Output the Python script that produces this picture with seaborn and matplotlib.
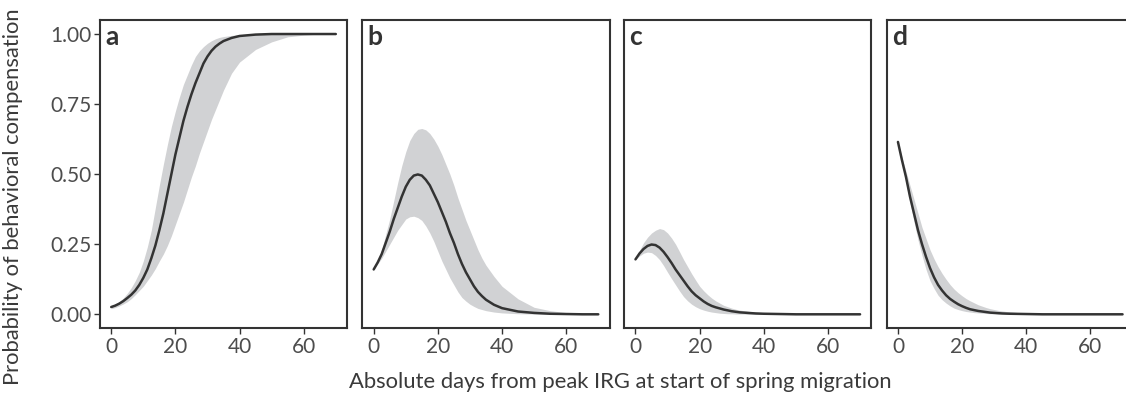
import numpy as np
import pandas as pd
import matplotlib
matplotlib.use("Agg")
import matplotlib.pyplot as plt
import seaborn as sns

# days from peak IRG (shared x grid for every panel)
days = [0, 1.25, 2.5, 3.75, 5, 6.25, 7.5, 8.75,
        10, 11.25, 12.5, 13.75, 15, 16.25, 17.5, 18.75,
        20, 21.25, 22.5, 23.75, 25, 26.25, 27.5, 28.75,
        30, 31.25, 32.5, 33.75, 35,
        37.5, 40, 45, 50, 55, 60, 65, 70]

panel_letters = ["a", "b", "c", "d"]

# panel a
fit_a = [0.026, 0.031, 0.038, 0.047, 0.058, 0.07, 0.085, 0.105,
         0.13, 0.16, 0.20, 0.245, 0.30, 0.36, 0.43, 0.50,
         0.57, 0.63, 0.69, 0.74, 0.785, 0.825, 0.86, 0.895,
         0.92, 0.94, 0.955, 0.966, 0.975,
         0.986, 0.993, 0.998, 1.0, 1.0, 1.0, 1.0, 1.0]
upr_a = [0.03, 0.037, 0.045, 0.058, 0.075, 0.095, 0.12, 0.15,
         0.19, 0.24, 0.30, 0.38, 0.46, 0.535, 0.605, 0.67,
         0.725, 0.775, 0.82, 0.855, 0.89, 0.92, 0.94, 0.955,
         0.967, 0.976, 0.983, 0.988, 0.991,
         0.995, 0.998, 1.0, 1.0, 1.0, 1.0, 1.0, 1.0]
lwr_a = [0.02, 0.024, 0.03, 0.037, 0.045, 0.056, 0.07, 0.085,
         0.10, 0.12, 0.14, 0.163, 0.19, 0.215, 0.245, 0.28,
         0.32, 0.36, 0.40, 0.445, 0.49, 0.53, 0.575, 0.615,
         0.655, 0.695, 0.73, 0.765, 0.80,
         0.86, 0.90, 0.945, 0.972, 0.99, 0.996, 1.0, 1.0]

# panel b
fit_b = [0.16, 0.185, 0.215, 0.255, 0.295, 0.34, 0.38, 0.42,
         0.455, 0.48, 0.495, 0.499, 0.495, 0.48, 0.46, 0.43,
         0.40, 0.365, 0.33, 0.29, 0.255, 0.215, 0.18, 0.15,
         0.125, 0.10, 0.08, 0.065, 0.052,
         0.034, 0.022, 0.01, 0.005, 0.002, 0.001, 0.0, 0.0]
upr_b = [0.16, 0.19, 0.23, 0.285, 0.34, 0.405, 0.47, 0.53,
         0.58, 0.62, 0.645, 0.66, 0.663, 0.658, 0.645, 0.625,
         0.60, 0.57, 0.535, 0.50, 0.46, 0.415, 0.375, 0.335,
         0.30, 0.265, 0.23, 0.20, 0.175,
         0.135, 0.10, 0.055, 0.025, 0.013, 0.006, 0.003, 0.001]
lwr_b = [0.16, 0.18, 0.20, 0.225, 0.25, 0.275, 0.30, 0.32,
         0.34, 0.348, 0.35, 0.345, 0.335, 0.315, 0.29, 0.26,
         0.225, 0.19, 0.16, 0.13, 0.105, 0.08, 0.06, 0.047,
         0.036, 0.028, 0.021, 0.017, 0.013,
         0.008, 0.005, 0.002, 0.001, 0.0, 0.0, 0.0, 0.0]

# panel c
fit_c = [0.196, 0.217, 0.233, 0.244, 0.249, 0.247, 0.238, 0.223,
         0.204, 0.183, 0.16, 0.14, 0.12, 0.10, 0.082, 0.068,
         0.057, 0.046, 0.037, 0.03, 0.025, 0.021, 0.017, 0.014,
         0.011, 0.009, 0.007, 0.006, 0.005,
         0.003, 0.002, 0.001, 0.0, 0.0, 0.0, 0.0, 0.0]
upr_c = [0.196, 0.228, 0.255, 0.275, 0.29, 0.30, 0.306, 0.302,
         0.29, 0.272, 0.25, 0.223, 0.195, 0.17, 0.145, 0.122,
         0.10, 0.084, 0.07, 0.058, 0.048, 0.04, 0.032, 0.027,
         0.022, 0.018, 0.015, 0.013, 0.011,
         0.008, 0.006, 0.003, 0.001, 0.0, 0.0, 0.0, 0.0]
lwr_c = [0.196, 0.208, 0.218, 0.222, 0.22, 0.21, 0.195, 0.174,
         0.15, 0.127, 0.105, 0.083, 0.063, 0.048, 0.036, 0.027,
         0.02, 0.015, 0.011, 0.008, 0.006, 0.004, 0.003, 0.002,
         0.002, 0.001, 0.001, 0.001, 0.0,
         0.0, 0.0, 0.0, 0.0, 0.0, 0.0, 0.0, 0.0]

# panel d
fit_d = [0.615, 0.55, 0.49, 0.42, 0.36, 0.30, 0.25, 0.205,
         0.165, 0.132, 0.105, 0.085, 0.068, 0.055, 0.045, 0.036,
         0.029, 0.023, 0.018, 0.015, 0.012, 0.01, 0.008, 0.006,
         0.005, 0.004, 0.003, 0.0025, 0.002,
         0.0015, 0.001, 0.0, 0.0, 0.0, 0.0, 0.0, 0.0]
upr_d = [0.615, 0.56, 0.51, 0.46, 0.41, 0.36, 0.31, 0.27,
         0.23, 0.198, 0.17, 0.146, 0.125, 0.106, 0.09, 0.077,
         0.066, 0.056, 0.048, 0.041, 0.034, 0.029, 0.024, 0.02,
         0.017, 0.014, 0.012, 0.01, 0.009,
         0.006, 0.005, 0.002, 0.001, 0.0, 0.0, 0.0, 0.0]
lwr_d = [0.615, 0.54, 0.47, 0.40, 0.33, 0.265, 0.21, 0.16,
         0.12, 0.092, 0.068, 0.052, 0.04, 0.03, 0.022, 0.017,
         0.013, 0.01, 0.008, 0.006, 0.005, 0.004, 0.003, 0.002,
         0.002, 0.001, 0.001, 0.0, 0.0,
         0.0, 0.0, 0.0, 0.0, 0.0, 0.0, 0.0, 0.0]

x_ticks = [0, 20, 40, 60]
y_ticks = [0.0, 0.25, 0.5, 0.75, 1.0]
y_tick_labels = ["0.00", "0.25", "0.50", "0.75", "1.00"]

x_label = "Absolute days from peak IRG at start of spring migration"
y_label = "Probability of behavioral compensation"


def main():
    sns.set_theme(style="white")
    plt.rcParams["font.family"] = ["Lato", "DejaVu Sans"]

    line_col = "#333333"
    band_col = "#d1d2d4"
    tick_col = "#4d4d4d"

    fits = [fit_a, fit_b, fit_c, fit_d]
    uprs = [upr_a, upr_b, upr_c, upr_d]
    lwrs = [lwr_a, lwr_b, lwr_c, lwr_d]

    fig = plt.figure(figsize=(11.26, 3.94), dpi=100)

    lefts = [0.0888, 0.3219, 0.5544, 0.7875]
    bottom, width, height = 0.1667, 0.2194, 0.7825

    for i, letter in enumerate(panel_letters):
        ax = fig.add_axes([lefts[i], bottom, width, height])
        df = pd.DataFrame({"days": days, "fit": fits[i],
                           "lwr": lwrs[i], "upr": uprs[i]})

        ax.fill_between(df["days"], df["lwr"], df["upr"],
                        color=band_col, linewidth=0, zorder=1)
        sns.lineplot(data=df, x="days", y="fit", ax=ax, color=line_col,
                     linewidth=1.8, zorder=2)

        ax.set_xlim(-3.5, 73.5)
        ax.set_ylim(-0.05, 1.05)
        ax.set_xticks(x_ticks)
        ax.set_yticks(y_ticks)
        ax.set_xlabel("")
        ax.set_ylabel("")

        for sp in ax.spines.values():
            sp.set_color(line_col)
            sp.set_linewidth(1.5)

        ax.tick_params(axis="both", which="both", direction="out", length=4,
                       width=1.0, color=line_col, labelcolor=tick_col,
                       labelsize=15, pad=2,
                       bottom=True, left=(i == 0))

        if i == 0:
            ax.set_yticklabels(y_tick_labels)
        else:
            ax.set_yticklabels([])

        ax.text(0.02, 0.985, letter, transform=ax.transAxes, ha="left",
                va="top", fontsize=19, fontweight="bold", color=line_col)

    fig.text(0.551, 0.004, x_label, ha="center", va="bottom",
             fontsize=15.8, color="#3a3a3a")
    fig.text(0.003, 0.5, y_label, ha="left", va="center", rotation=90,
             fontsize=15.8, color="#3a3a3a")

    fig.savefig("out.png", dpi=100)
    plt.close(fig)


if __name__ == "__main__":
    main()
